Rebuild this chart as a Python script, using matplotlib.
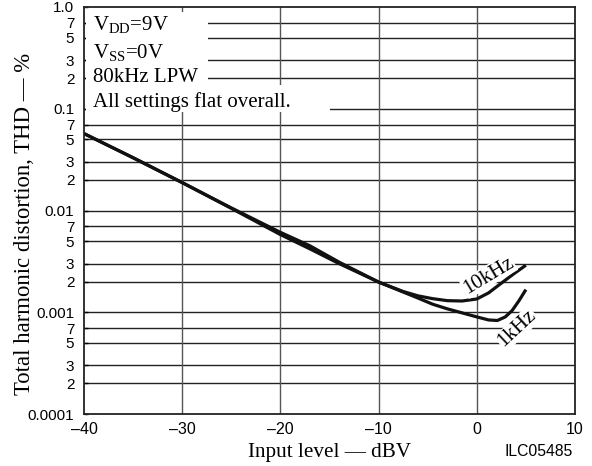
import numpy as np
import matplotlib
matplotlib.use("Agg")
import matplotlib.pyplot as plt
from matplotlib.patches import Rectangle

# ── Data ─────────────────────────────────────────────────────
dbv_10k = [-40, -35, -30, -25, -20, -17, -14, -10, -7.5, -6, -4.5, -3, -1.5, 0, 1.2, 2.4, 3.8, 5]
thd_10k = [0.057, 0.033, 0.0188, 0.0106, 0.0061, 0.0045, 0.0031, 0.00198,
           0.00160, 0.00145, 0.00136, 0.00130, 0.00129, 0.00135, 0.00155, 0.0019, 0.0024, 0.0029]

dbv_1k = [-40, -35, -30, -25, -20, -17, -14, -10, -7.5, -6, -4.5, -3, 0, 1.2, 2.1, 2.9, 3.6, 4.3, 5]
thd_1k = [0.057, 0.033, 0.0188, 0.0105, 0.0058, 0.0042, 0.0030, 0.00198,
          0.00158, 0.00138, 0.00120, 0.00108, 0.00090, 0.00084, 0.00083, 0.00090, 0.00104,
          0.0013, 0.00167]

y_ticks  = [1e-4, 2e-4, 3e-4, 5e-4, 7e-4, 1e-3, 2e-3, 3e-3, 5e-3, 7e-3,
            1e-2, 2e-2, 3e-2, 5e-2, 7e-2, 0.1, 0.2, 0.3, 0.5, 0.7, 1.0]
y_labels = ["0.0001", "2", "3", "5", "7", "0.001", "2", "3", "5", "7",
            "0.01", "2", "3", "5", "7", "0.1", "2", "3", "5", "7", "1.0"]
x_ticks  = [-40, -30, -20, -10, 0, 10]
x_labels = ["\u201340", "\u201330", "\u201320", "\u201310", "0", "10"]

SERIF = "Liberation Serif"
SANS = "Liberation Sans"

fig = plt.figure(figsize=(5.92, 4.66), dpi=100)
ax = fig.add_axes([84 / 592, 1 - 414 / 466, 491 / 592, 407 / 466])

ax.set_yscale("log")
ax.set_xlim(-40, 10)
ax.set_ylim(1e-4, 1.0)

# grid
for v in y_ticks[1:-1]:
    ax.axhline(v, color="#222222", linewidth=1.0, zorder=1)
for v in x_ticks[1:-1]:
    ax.axvline(v, color="#555555", linewidth=1.0, zorder=1)

# white areas behind the condition text
ax.add_patch(Rectangle((0.004, 0.808), 0.248, 0.18, transform=ax.transAxes,
                       facecolor="white", edgecolor="none", zorder=2))
ax.add_patch(Rectangle((0.004, 0.741), 0.498, 0.067, transform=ax.transAxes,
                       facecolor="white", edgecolor="none", zorder=2))

ax.plot(dbv_10k, thd_10k, color="#111111", linewidth=2.3, zorder=4,
        solid_capstyle="butt", solid_joinstyle="round")
ax.plot(dbv_1k, thd_1k, color="#111111", linewidth=2.3, zorder=4,
        solid_capstyle="butt", solid_joinstyle="round")

tk = dict(fontsize=15, family=SERIF, zorder=5, va="baseline", ha="left")
ax.text(-39.1, 0.59, r"V$_{\mathregular{DD}}$=9V", **tk)
ax.text(-39.1, 0.31, r"V$_{\mathregular{SS}}$=0V", **tk)
ax.text(-39.1, 0.182, "80kHz LPW", **tk)
ax.text(-39.1, 0.103, "All settings flat overall.", **tk)

ax.text(1.2, 0.00229, "10kHz", fontsize=15, family=SERIF, rotation=31,
        ha="center", va="center", zorder=5,
        bbox=dict(facecolor="white", edgecolor="none", pad=0.5))
ax.text(4.1, 0.00069, "1kHz", fontsize=15, family=SERIF, rotation=43,
        ha="center", va="center", zorder=5,
        bbox=dict(facecolor="white", edgecolor="none", pad=0.5))

ax.set_yticks(y_ticks)
ax.set_yticklabels(y_labels, family=SANS, fontsize=11)
ax.yaxis.set_minor_locator(matplotlib.ticker.NullLocator())
ax.set_xticks(x_ticks)
ax.set_xticklabels(x_labels, family=SANS, fontsize=11.5)
ax.tick_params(axis="y", direction="in", length=3, width=1, pad=7)
ax.tick_params(axis="x", direction="in", length=0, pad=6)

for s in ax.spines.values():
    s.set_linewidth(1.3)
    s.set_color("#222222")
    s.set_zorder(6)

ax.set_xlabel("Input level \u2014 dBV", family=SERIF, fontsize=15.2, labelpad=4)
ax.set_ylabel("Total harmonic distortion, THD \u2014 %", family=SERIF,
              fontsize=16.4)
ax.yaxis.set_label_coords(-0.10, 0.468)

fig.text(573 / 592, 1 - 452 / 466, "ILC05485", family=SANS, fontsize=11.3,
         ha="right", va="center")

fig.savefig("out.png", dpi=100)
